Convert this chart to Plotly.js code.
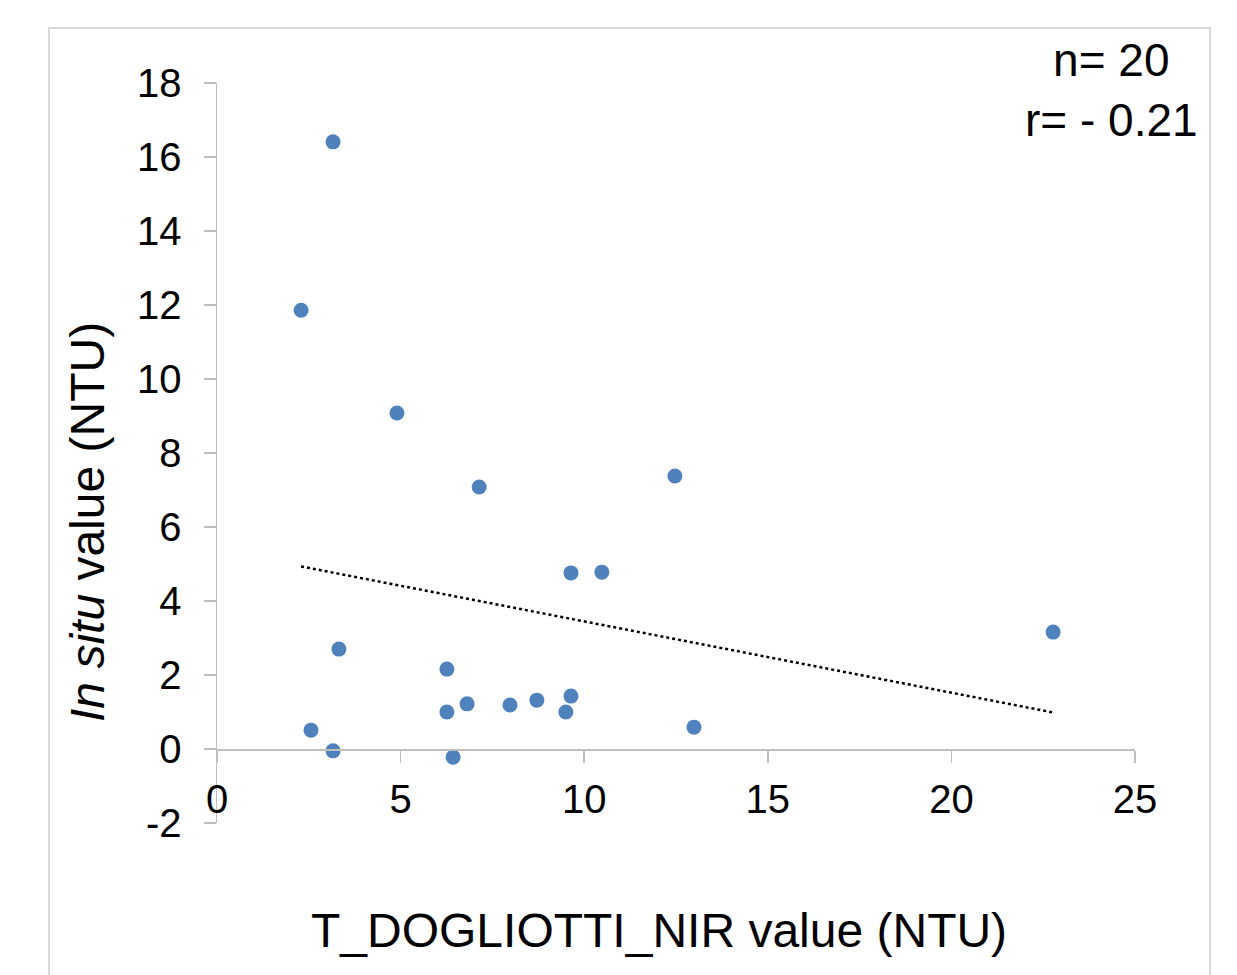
<!DOCTYPE html>
<html>
<head>
<meta charset="utf-8">
<script src="https://cdn.plot.ly/plotly-3.0.1.min.js"></script>
<style>html,body{margin:0;padding:0;background:#fff;}#chart{width:1237px;height:975px;}</style>
</head>
<body>
<div id="chart"></div>
<script>
// Data
const satelliteNTU = [3.16, 2.29, 4.90, 7.14, 12.47, 9.64, 10.48, 22.77, 3.32, 6.26, 9.64, 6.81, 7.98, 8.71, 6.26, 9.50, 12.99, 2.56, 3.16, 6.43];
const inSituNTU   = [16.41, 11.86, 9.08, 7.08, 7.38, 4.76, 4.78, 3.16, 2.70, 2.16, 1.43, 1.22, 1.19, 1.32, 1.00, 1.00, 0.59, 0.51, -0.05, -0.22];
const yTickVals = [-2, 0, 2, 4, 6, 8, 10, 12, 14, 16, 18];
const yTickText = ["-2", "0", "2", "4", "6", "8", "10", "12", "14", "16", "18"];
const xTickVals = [0, 5, 10, 15, 20, 25];
const xTickText = ["0", "5", "10", "15", "20", "25"];
const statsLabels = ["n= 20", "r= - 0.21"];
const xTitle = "T_DOGLIOTTI_NIR value (NTU)";
const yTitle = "<i>In situ</i> value (NTU)";

// Linear trendline (least squares) computed from the data
const n = satelliteNTU.length;
const mx = satelliteNTU.reduce((a, b) => a + b, 0) / n;
const my = inSituNTU.reduce((a, b) => a + b, 0) / n;
let sxy = 0, sxx = 0;
for (let i = 0; i < n; i++) { sxy += (satelliteNTU[i] - mx) * (inSituNTU[i] - my); sxx += (satelliteNTU[i] - mx) ** 2; }
const slope = sxy / sxx, intercept = my - slope * mx;
const xMin = Math.min(...satelliteNTU), xMax = Math.max(...satelliteNTU);
const trendX = [xMin, xMax];
const trendY = trendX.map(v => intercept + slope * v);

const font = "Liberation Sans, Arial, sans-serif";
const axisGray = "#bfbfbf";

const traces = [
  { x: trendX, y: trendY, type: "scatter", mode: "lines",
    line: { color: "#000000", width: 2.5, dash: "dot" }, hoverinfo: "skip", showlegend: false },
  { x: satelliteNTU, y: inSituNTU, type: "scatter", mode: "markers",
    marker: { color: "#4f81bd", size: 15 }, showlegend: false }
];

const layout = {
  width: 1237, height: 975,
  margin: { l: 217, r: 102, t: 83, b: 152 },
  paper_bgcolor: "#ffffff", plot_bgcolor: "#ffffff",
  font: { family: font, color: "#000000" },
  showlegend: false,
  xaxis: {
    range: [0, 25], tickmode: "array", tickvals: xTickVals, ticktext: xTickText,
    showgrid: false, zeroline: false,
    showline: true, linecolor: axisGray, linewidth: 1.5,
    ticks: "outside", ticklen: 12, tickcolor: axisGray, tickwidth: 1.5,
    anchor: "free", position: 0.1, ticklabelstandoff: 2,
    tickfont: { size: 40, family: font, color: "#000" }
  },
  yaxis: {
    range: [-2, 18], tickmode: "array", tickvals: yTickVals, ticktext: yTickText,
    domain: [0, 1], showgrid: false, zeroline: false,
    showline: true, linecolor: axisGray, linewidth: 1.5,
    ticks: "outside", ticklen: 12, tickcolor: axisGray, tickwidth: 1.5,
    ticklabelstandoff: 14,
    tickfont: { size: 40, family: font, color: "#000" }
  },
  shapes: [
    { type: "rect", xref: "paper", yref: "paper", x0: -0.183, x1: 1.0817, y0: -0.23, y1: 1.0743,
      line: { color: "#d9d9d9", width: 2 }, fillcolor: "rgba(0,0,0,0)", layer: "below" }
  ],
  annotations: [
    { text: statsLabels.join("<br>"), xref: "paper", yref: "paper", x: 0.974, y: 0.99,
      xanchor: "center", yanchor: "middle", align: "center", showarrow: false,
      font: { size: 46, family: font, color: "#000" } },
    { text: xTitle, xref: "paper", yref: "paper", x: 0.4815, y: -0.1446,
      xanchor: "center", yanchor: "middle", showarrow: false,
      font: { size: 48, family: font, color: "#000" } },
    { text: yTitle, xref: "paper", yref: "paper", x: -0.1405, y: 0.4068, textangle: -90,
      xanchor: "center", yanchor: "middle", showarrow: false,
      font: { size: 48, family: font, color: "#000" } }
  ]
};

Plotly.newPlot("chart", traces, layout, { displayModeBar: false, staticPlot: true });
</script>
</body>
</html>
